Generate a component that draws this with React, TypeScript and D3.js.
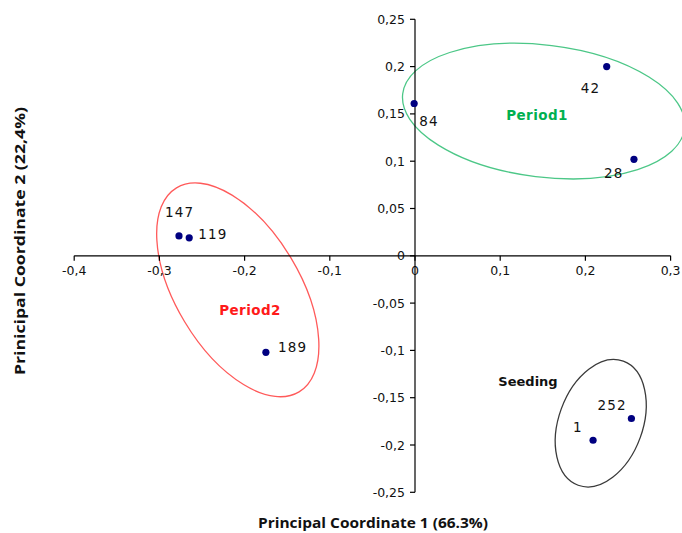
import React from "react";
import * as d3 from "d3";

// ---- data ----
const sampleIds = ["84", "42", "28", "147", "119", "189", "1", "252"];
const pc1Values = [-0.001, 0.225, 0.257, -0.277, -0.265, -0.175, 0.209, 0.254];
const pc2Values = [0.161, 0.2, 0.102, 0.021, 0.019, -0.102, -0.195, -0.172];

const xTicks = [-0.4, -0.3, -0.2, -0.1, 0, 0.1, 0.2, 0.3];
const yTicks = [-0.25, -0.2, -0.15, -0.1, -0.05, 0, 0.05, 0.1, 0.15, 0.2, 0.25];

const groupNames = ["Period1", "Period2", "Seeding"];
const groupCenterX = [0.151, -0.208, 0.218];
const groupCenterY = [0.153, -0.036, -0.177];

// ---- layout / style ----
const W = 682;
const H = 533;
const labelOffsets: [number, number][] = [
  [5, 23], [-26, 26], [-30, 19], [-14, -19], [9, 1], [12, 0], [-20, -8], [-34, -9],
];
const ellipseShapes = [
  { rx: 142, ry: 66, rot: 7, stroke: "#4cc787" },
  { rx: 62, ry: 119, rot: -31, stroke: "#ff5a5a" },
  { rx: 42, ry: 66, rot: 20, stroke: "#3a3a3a" },
];
const groupLabelPos = [
  { x: 537, y: 120, fill: "#00b050", size: 13.5, ls: 0.4 },
  { x: 250, y: 315, fill: "#ff1a1a", size: 13.5, ls: 0.4 },
  { x: 528, y: 386, fill: "#111", size: 13, ls: 0 },
];

const fmt = (v: number) =>
  v === 0 ? "0" : String(+v.toFixed(2)).replace(".", ",");

export default function App() {
  const x = d3.scaleLinear().domain([-0.4, 0.3]).range([74.2, 670.6]);
  const y = d3.scaleLinear().domain([-0.25, 0.25]).range([492.3, 19.3]);
  const x0 = x(0);
  const y0 = y(0);
  const tickFont = "DejaVu Sans";

  return (
    <svg
      width={W}
      height={H}
      style={{ position: "absolute", left: 0, top: 0, background: "#fff" }}
    >
      <rect width={W} height={H} fill="#fff" />
      {ellipseShapes.map((e, i) => {
        const cx = x(groupCenterX[i]);
        const cy = y(groupCenterY[i]);
        return (
          <ellipse
            key={"e" + i}
            cx={cx}
            cy={cy}
            rx={e.rx}
            ry={e.ry}
            transform={`rotate(${e.rot} ${cx} ${cy})`}
            fill="none"
            stroke={e.stroke}
            strokeWidth={1.3}
          />
        );
      })}
      <line x1={x(-0.4)} x2={x(0.3)} y1={y0} y2={y0} stroke="#000" strokeWidth={1.2} />
      {xTicks.map((t) => (
        <g key={"xt" + t}>
          <line x1={x(t)} x2={x(t)} y1={y0} y2={y0 + 5} stroke="#000" strokeWidth={1.2} />
          <text
            x={x(t)}
            y={y0 + 19}
            textAnchor="middle"
            fontFamily={tickFont}
            fontSize={12.5}
            fill="#111"
          >
            {fmt(t)}
          </text>
        </g>
      ))}
      <line x1={x0} x2={x0} y1={y(0.25)} y2={y(-0.25)} stroke="#000" strokeWidth={1.2} />
      {yTicks.map((t) => (
        <g key={"yt" + t}>
          <line x1={x0 - 5} x2={x0} y1={y(t)} y2={y(t)} stroke="#000" strokeWidth={1.2} />
          <text
            x={x0 - 10}
            y={y(t) + 4.5}
            textAnchor="end"
            fontFamily={tickFont}
            fontSize={12.5}
            fill="#111"
          >
            {fmt(t)}
          </text>
        </g>
      ))}
      {sampleIds.map((id, i) => {
        const px = x(pc1Values[i]);
        const py = y(pc2Values[i]);
        return (
          <g key={"p" + id}>
            <circle cx={px} cy={py} r={3.6} fill="#000080" />
            <text
              x={px + labelOffsets[i][0]}
              y={py + labelOffsets[i][1]}
              fontFamily="DejaVu Sans"
              fontSize={13.5}
              letterSpacing={1.2}
              fill="#111"
            >
              {id}
            </text>
          </g>
        );
      })}
      {groupNames.map((g, i) => (
        <text
          key={"g" + g}
          x={groupLabelPos[i].x}
          y={groupLabelPos[i].y}
          textAnchor="middle"
          fontFamily="DejaVu Sans"
          fontWeight="bold"
          fontSize={groupLabelPos[i].size}
          letterSpacing={groupLabelPos[i].ls}
          fill={groupLabelPos[i].fill}
        >
          {g}
        </text>
      ))}
      <text
        x={373}
        y={528}
        textAnchor="middle"
        fontFamily="Open Sans"
        fontWeight="bold"
        fontSize={14}
        fill="#111"
        textLength={230}
        lengthAdjust="spacingAndGlyphs"
      >
        Principal Coordinate 1 (66.3%)
      </text>
      <text
        transform={`translate(25, 241) rotate(-90)`}
        textAnchor="middle"
        fontFamily="Open Sans"
        fontWeight="bold"
        fontSize={14}
        fill="#111"
        textLength={268}
        lengthAdjust="spacingAndGlyphs"
      >
        Prinicipal Coordinate 2 (22,4%)
      </text>
    </svg>
  );
}
